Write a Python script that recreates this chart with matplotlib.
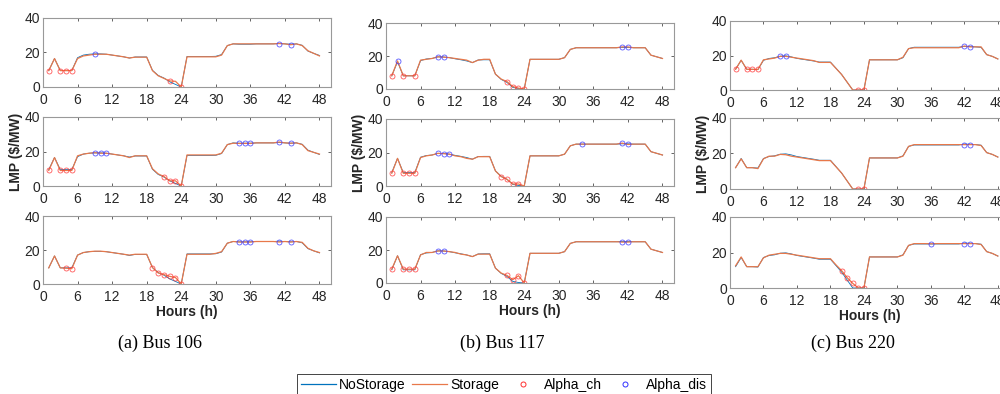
import matplotlib
matplotlib.use("Agg")
import numpy as np
from matplotlib import pyplot as plt
from matplotlib.lines import Line2D

plt.rcParams["font.family"] = ["Liberation Sans", "DejaVu Sans"]

hours = list(range(1, 49))

# LMP without storage, one per bus
nostorage_106 = [9.5, 16.5, 9.5, 9.5, 9.5, 17, 18.5, 19, 19.2, 19.2, 19, 18.5, 18, 17.5, 16.8, 17.4,
                 17.4, 17.4, 9.7, 6.7, 5.2, 3, 1.5, 0, 17.7, 17.7, 17.7, 17.7, 17.7, 17.8, 18.8, 24,
                 25, 24.8, 24.8, 24.8, 25, 25, 25, 25, 25.2, 25, 24.8, 25, 24.2, 20.8, 19.5, 18.3]
nostorage_117 = [8, 16.5, 8, 8, 8, 17.2, 18.2, 18.5, 19.5, 19.4, 19, 18.3, 17.7, 17, 16, 17.6,
                 17.7, 17.7, 9, 5.8, 4, 1, 0.3, 0, 18, 18, 18, 18, 18, 18, 19, 24,
                 25, 25, 25, 25, 25, 25, 25, 25, 25.2, 25.2, 25, 25, 25, 20.5, 19.5, 18.5]
nostorage_220 = [12, 17.2, 12, 12, 11.8, 17.2, 18.3, 18.7, 19.6, 19.8, 19.2, 18.3, 17.8, 17.3, 16.8, 16.2,
                 16.2, 16.2, 12.6, 9, 4.5, 0, 0, 0, 17.5, 17.5, 17.5, 17.5, 17.5, 17.5, 18.7, 24,
                 24.8, 24.8, 24.8, 24.8, 24.8, 24.8, 24.8, 24.8, 24.8, 25.3, 25.2, 25, 24.7, 20.5, 19.5, 18]

# LMP with storage, three cases per bus
storage_106 = [
    [9.5, 16.5, 9.5, 9.5, 9.5, 16.5, 18, 18.5, 19, 19, 19, 18.5, 18, 17.5, 16.8, 17.3,
     17.3, 17.3, 9.5, 6.5, 5, 3.5, 3.3, 0, 17.5, 17.5, 17.5, 17.5, 17.5, 17.5, 18.5, 24,
     25, 25, 25, 25, 25, 25, 25, 25, 25.2, 25, 24.5, 25, 24, 21, 19.5, 18],
    [9, 16.5, 9, 9, 9, 17.5, 18.5, 19, 19.3, 19, 19, 18.5, 18, 17.5, 16.5, 17.5,
     17.5, 17.5, 10, 7, 5.5, 3, 3, 0, 18, 18, 18, 18, 18, 18, 19, 24,
     24.8, 24.7, 24.7, 24.7, 25, 25, 25, 25, 25.5, 25, 24.8, 25, 24, 20.5, 19.5, 18.5],
    [9.5, 16.5, 9.5, 9.3, 9, 17, 18.5, 19, 19.3, 19.3, 19, 18.5, 18, 17.5, 17, 17.5,
     17.5, 17.5, 9.7, 6.5, 5.5, 4.5, 3.8, 0, 17.5, 17.5, 17.5, 17.5, 17.5, 18, 19, 24,
     25, 24.7, 24.7, 24.7, 25, 25, 25, 25, 24.7, 25, 24.7, 25, 24.5, 21, 19.5, 18.5],
]
storage_117 = [
    [8, 17, 8, 8, 8, 17.5, 18, 18.5, 19.5, 19.3, 19, 18.5, 18, 17.5, 16, 17.5,
     18, 18, 9, 6, 4.5, 1.5, 0.5, 0, 18, 18, 18, 18, 18, 18, 19, 24,
     25, 25, 25, 25, 25, 25, 25, 25, 25.5, 25.5, 25, 25, 25, 20.5, 19.5, 18.5],
    [7.6, 16.5, 7.6, 7.6, 7.6, 17, 18, 18.5, 19.5, 19.3, 19, 18, 17.5, 16.5, 16, 17.5,
     17.5, 17.5, 9, 5.6, 4, 1.2, 1.2, 0, 18, 18, 18, 18, 18, 18, 19, 24,
     25, 25, 25, 25, 25, 25, 25, 25, 25.6, 24.8, 25, 25, 25, 20.5, 19.5, 18.5],
    [8.4, 16.5, 8.4, 8.4, 8.4, 17, 18.5, 18.5, 19.4, 19.4, 19, 18.5, 17.5, 17, 16, 17.5,
     17.5, 17.5, 9, 6, 4.6, 2, 4.4, 0, 18, 18, 18, 18, 18, 18, 19, 24,
     25, 25, 25, 25, 25, 25, 25, 25, 24.8, 24.8, 25, 25, 25, 20.5, 19.5, 18.5],
]
storage_220 = [
    [12, 17.3, 12, 12, 11.9, 17.5, 18, 18.5, 19.5, 19.5, 19, 18.5, 18, 17.5, 17, 16,
     16, 16, 12.5, 9, 4.5, 0, 0, 0, 17.5, 17.5, 17.5, 17.5, 17.5, 17.5, 19, 24,
     24.5, 24.5, 24.5, 24.5, 24.5, 24.5, 24.5, 24.5, 24.5, 25.5, 25, 25, 25, 20.5, 19.5, 18],
    [12, 17, 12, 12, 11.5, 17, 18.5, 18.5, 19.5, 19.3, 18.5, 18, 17.5, 17, 16.5, 16,
     16, 16, 12.5, 9, 4.5, 0, 0, 0, 17.5, 17.5, 17.5, 17.5, 17.5, 17.5, 18.5, 24,
     25, 25, 25, 25, 25, 25, 25, 25, 25, 25, 25, 25, 24.5, 20.5, 19.5, 18],
    [12.5, 17.5, 12, 12, 12, 17, 18.5, 19, 19.5, 19.5, 19, 18.5, 18, 17.5, 17, 16.5,
     16.5, 16.5, 13, 9.8, 5.8, 2.6, 0, 0, 17.5, 17.5, 17.5, 17.5, 17.5, 17.5, 18.5, 24,
     25, 25, 25, 24.9, 25, 25, 25, 25, 25, 25, 25, 25, 24.5, 20.5, 19.5, 18],
]

# hours with charging / discharging
alpha_ch_106 = [[1, 3, 4, 5, 22, 24], [1, 3, 4, 5, 21, 22, 23, 24], [4, 5, 19, 20, 21, 22, 23, 24]]
alpha_dis_106 = [[9, 41, 43], [9, 10, 11, 34, 35, 36, 41, 43], [34, 35, 36, 41, 43]]
alpha_ch_117 = [[1, 3, 5, 21, 22, 23, 24], [1, 3, 4, 5, 20, 21, 22, 23], [1, 3, 4, 5, 21, 22, 23, 24]]
alpha_dis_117 = [[2, 9, 10, 41, 42], [9, 10, 11, 34, 41, 42], [9, 10, 41, 42]]
alpha_ch_220 = [[1, 3, 4, 5, 23, 24], [23, 24], [20, 21, 22, 23, 24]]
alpha_dis_220 = [[9, 10, 42, 43], [42, 43], [36, 42, 43]]

captions = ["(a) Bus 106", "(b) Bus 117", "(c) Bus 220"]

buses = [
    (nostorage_106, storage_106, alpha_ch_106, alpha_dis_106),
    (nostorage_117, storage_117, alpha_ch_117, alpha_dis_117),
    (nostorage_220, storage_220, alpha_ch_220, alpha_dis_220),
]

W, H = 1000, 394
# pixel boxes: (left, width) per column, (top, bottom) per row
col_box = [(43, 288), (386, 288), (730, 279)]
row_box = [[(18, 87), (117, 186), (216, 284)],
           [(23, 89), (119, 186), (217, 283)],
           [(21, 90), (118, 189), (217, 288)]]
caption_x = [160, 502, 853]

C_NO = "#0072BD"
C_ST = "#E8784A"
C_CH = "#ff3030"
C_DIS = "#3030ff"
AX_C = "#262626"

fig = plt.figure(figsize=(10, 3.94), dpi=100)

for c, (nost, st, ach, adis) in enumerate(buses):
    left, width = col_box[c]
    for r in range(3):
        top, bottom = row_box[c][r]
        ax = fig.add_axes([left / W, 1 - bottom / H, width / W, (bottom - top) / H])
        ax.plot(hours, nost, color=C_NO, lw=0.6)
        ax.plot(hours, st[r], color=C_ST, lw=0.9)
        ax.plot(ach[r], [st[r][h - 1] for h in ach[r]], "o", mec=C_CH, mfc="none",
                ms=3.6, mew=0.6, alpha=0.8)
        ax.plot(adis[r], [st[r][h - 1] for h in adis[r]], "o", mec=C_DIS, mfc="none",
                ms=3.6, mew=0.6, alpha=0.8)
        ax.set_xlim(0, 50)
        ax.set_ylim(0, 40)
        ax.set_xticks(range(0, 49, 6))
        ax.set_yticks([0, 20, 40])
        ax.tick_params(direction="in", top=True, right=True, length=2.5, width=0.5,
                       color=AX_C, labelcolor=AX_C, labelsize=10)
        ax.tick_params(axis="x", pad=4)
        ax.tick_params(axis="y", pad=2)
        for s in ax.spines.values():
            s.set_color("#999999")
            s.set_linewidth(0.8)
        if r == 1:
            ax.set_ylabel(r"LMP (\$/MW)", fontweight="bold", fontsize=10, color=AX_C, labelpad=1)
        if r == 2:
            ax.set_xlabel("Hours (h)", fontweight="bold", fontsize=10, color=AX_C, labelpad=1)
    fig.text(caption_x[c] / W, 1 - 343 / H, captions[c], family="Liberation Serif",
             fontsize=13, ha="center", va="center")

handles = [
    Line2D([], [], color=C_NO, lw=0.9),
    Line2D([], [], color=C_ST, lw=0.9),
    Line2D([], [], ls="none", marker="o", mec=C_CH, mfc="none", ms=3.6, mew=0.7),
    Line2D([], [], ls="none", marker="o", mec=C_DIS, mfc="none", ms=3.6, mew=0.7),
]
leg = fig.legend(handles, ["NoStorage", "Storage", "Alpha_ch", "Alpha_dis"],
                 loc="upper center", bbox_to_anchor=(504 / W, 1 - 374 / H), ncol=4,
                 fontsize=10, handlelength=2.5, handletextpad=0.25, columnspacing=0.45,
                 borderpad=0.3, borderaxespad=0, fancybox=False, edgecolor=AX_C,
                 framealpha=1)
leg.get_frame().set_linewidth(0.6)

fig.savefig("out.png", dpi=100)
